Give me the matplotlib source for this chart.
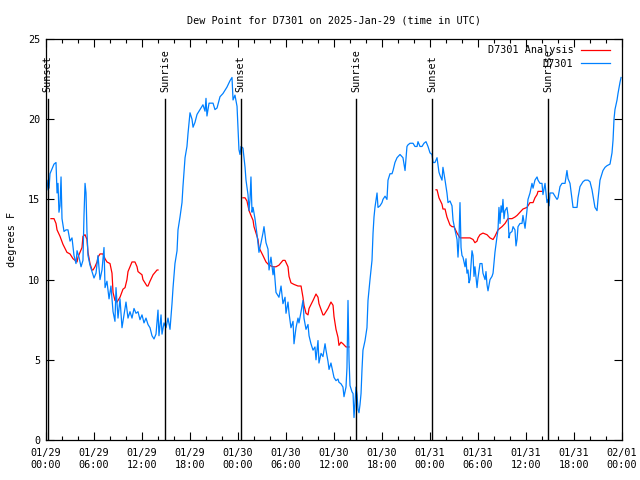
import matplotlib
matplotlib.use("Agg")
import matplotlib.pyplot as plt
import matplotlib.transforms as mtransforms

# hours since 2025-01-29 00:00 UTC
obs_hours = [0.12,0.25,0.38,0.5,0.75,1.0,1.25,1.38,1.5,1.62,1.75,1.88,2.0,2.25,2.5,2.75,3.0,3.25,3.5,3.75,3.88,4.12,4.38,4.62,4.75,4.88,5.0,5.12,5.25,5.5,5.75,6.0,6.25,6.5,6.75,7.0,7.25,7.38,7.62,7.88,8.12,8.38,8.62,8.75,9.0,9.25,9.5,9.75,10.0,10.25,10.5,10.75,11.0,11.25,11.5,11.75,12.0,12.25,12.5,12.75,13.0,13.25,13.5,13.75,14.0,14.12,14.38,14.5,14.75,15.0,15.25,15.5,15.75,15.88,16.12,16.38,16.5,16.75,17.0,17.12,17.38,17.62,17.75,18.0,18.25,18.38,18.62,18.88,19.25,19.62,19.88,20.0,20.12,20.38,20.88,21.12,21.38,21.75,22.12,22.62,23.0,23.25,23.38,23.62,23.88,24.12,24.25,24.38,24.62,24.88,25.0,25.25,25.38,25.5,25.62,25.75,25.88,26.12,26.38,26.62,26.88,27.12,27.25,27.5,27.75,27.88,28.12,28.38,28.5,28.75,29.12,29.38,29.62,29.88,30.0,30.25,30.38,30.62,30.88,31.0,31.25,31.5,31.62,31.88,32.12,32.25,32.5,32.75,32.88,33.12,33.38,33.62,33.75,34.0,34.12,34.38,34.62,34.88,35.0,35.25,35.38,35.62,35.88,36.0,36.25,36.5,36.62,36.88,37.12,37.25,37.5,37.62,37.75,37.88,38.0,38.25,38.38,38.5,38.62,38.75,38.88,39.0,39.12,39.25,39.38,39.5,39.62,39.88,40.12,40.25,40.5,40.75,40.88,41.0,41.12,41.38,41.5,41.75,42.0,42.12,42.38,42.62,42.75,43.0,43.25,43.38,43.62,43.88,44.25,44.62,44.88,45.12,45.25,45.5,45.88,46.12,46.38,46.5,46.75,47.0,47.25,47.5,47.75,48.0,48.25,48.38,48.62,48.88,49.12,49.25,49.5,49.62,49.88,50.12,50.25,50.5,50.75,50.88,51.12,51.38,51.5,51.62,51.75,51.88,52.0,52.12,52.38,52.5,52.62,52.75,52.88,53.0,53.25,53.38,53.5,53.62,53.88,54.0,54.25,54.5,54.62,54.88,55.0,55.12,55.25,55.5,55.75,55.88,56.12,56.38,56.5,56.62,56.75,56.88,57.0,57.12,57.25,57.38,57.62,57.75,57.88,58.0,58.25,58.38,58.62,58.75,58.88,59.0,59.25,59.5,59.62,59.88,60.12,60.25,60.5,60.75,60.88,61.12,61.38,61.5,61.75,62.0,62.12,62.38,62.62,62.75,62.88,63.0,63.38,63.62,63.88,64.0,64.25,64.5,64.88,65.12,65.25,65.5,65.75,65.88,66.38,66.5,66.75,67.0,67.12,67.38,67.75,68.0,68.25,68.38,68.62,68.88,69.0,69.25,69.5,69.62,69.88,70.12,70.5,70.75,70.88,71.0,71.12,71.38,71.5,71.75,71.88]
obs_values = [15.6,16.2,15.7,16.6,16.9,17.2,17.3,15.4,16.0,14.2,14.6,16.4,13.8,13.0,13.1,13.1,12.4,12.6,11.5,11.0,11.8,11.4,10.8,11.2,14.0,16.0,15.4,13.0,11.5,10.9,10.5,10.1,10.4,11.5,10.0,10.6,12.0,9.5,9.9,8.8,9.6,8.0,7.4,9.5,7.6,8.8,7.0,7.8,8.6,7.6,8.0,7.6,8.2,7.9,8.0,7.5,7.8,7.3,7.6,7.2,7.0,6.5,6.3,6.6,8.1,6.5,7.8,6.6,7.3,7.0,7.6,6.9,8.5,9.5,11.0,11.8,13.1,13.9,14.8,15.8,17.6,18.3,19.1,20.4,20.0,19.5,19.8,20.3,20.6,20.9,20.5,21.3,20.2,21.0,21.0,20.6,20.7,21.4,21.6,22.0,22.4,22.6,21.2,21.5,20.8,18.1,17.8,18.3,18.2,17.0,16.2,15.3,14.3,15.0,16.4,14.2,14.5,13.8,12.8,11.7,12.3,12.9,13.3,12.3,11.9,10.6,11.4,10.3,10.8,9.2,8.9,9.6,8.5,8.9,7.9,8.6,7.9,7.0,7.4,6.0,7.0,7.6,7.3,8.0,8.7,7.6,6.9,7.2,6.5,6.0,5.6,5.8,5.0,6.2,4.8,5.4,5.2,6.0,5.6,4.9,4.4,4.8,4.2,3.9,3.7,3.8,3.6,3.5,3.3,2.7,3.3,4.5,8.7,5.0,3.4,3.0,2.9,1.4,2.3,3.3,2.8,1.9,1.7,2.2,2.9,4.4,5.6,6.2,7.0,8.7,10.0,11.2,12.9,13.9,14.5,15.4,14.5,14.6,14.8,15.0,15.2,15.0,16.2,16.6,16.6,16.8,17.3,17.6,17.8,17.6,16.8,18.3,18.4,18.5,18.5,18.3,18.3,18.6,18.3,18.3,18.5,18.6,18.3,17.9,17.8,17.3,17.3,17.6,16.7,16.5,16.2,17.0,16.2,15.4,14.8,14.9,14.6,13.7,13.1,12.5,11.4,12.5,14.8,12.0,11.5,11.4,10.8,11.3,10.4,10.6,9.8,10.0,11.8,11.5,10.2,10.8,9.5,10.1,11.0,11.0,10.4,10.0,10.5,9.7,9.3,10.0,10.2,10.4,11.7,12.7,13.1,14.5,13.5,14.6,14.2,15.0,13.8,14.3,14.5,14.0,12.6,12.9,13.0,13.3,13.1,12.1,12.5,13.3,13.5,13.5,14.0,13.2,14.3,15.0,15.4,16.0,15.7,16.2,16.4,16.2,16.0,16.0,15.3,16.0,14.8,15.0,14.6,15.4,15.4,15.2,15.0,15.1,15.8,16.0,16.0,16.8,16.3,16.0,15.0,14.5,14.5,15.1,15.8,16.0,16.1,16.2,16.2,16.1,15.6,15.2,14.5,14.3,15.0,16.2,16.6,16.8,17.0,17.1,17.2,17.9,18.7,20.0,20.6,21.2,21.6,22.3,22.6]

ana1_hours = [0.62,1.0,1.25,1.38,1.75,2.12,2.62,3.0,3.38,3.88,4.0,4.25,4.5,4.62,4.88,5.12,5.25,5.5,5.75,5.88,6.12,6.38,6.5,6.75,7.12,7.38,7.62,8.0,8.25,8.38,8.62,8.88,9.0,9.25,9.62,9.88,10.12,10.25,10.5,10.75,11.12,11.38,11.5,12.0,12.12,12.62,12.75,13.0,13.38,13.88,14.0]
ana1_values = [13.8,13.8,13.5,13.1,12.7,12.2,11.7,11.6,11.3,11.1,11.4,11.7,12.0,12.7,12.8,12.5,11.7,11.0,10.6,10.6,10.8,11.1,11.4,11.6,11.6,11.3,11.1,11.0,10.4,9.2,8.7,8.6,8.7,8.9,9.4,9.5,10.0,10.5,10.8,11.1,11.1,10.8,10.5,10.3,10.0,9.6,9.6,9.9,10.3,10.6,10.6]
ana2_hours = [24.62,24.88,25.12,25.38,25.62,25.88,26.0,26.25,26.5,26.62,27.12,27.5,27.88,28.38,28.75,29.12,29.62,29.88,30.25,30.38,30.62,31.0,31.5,31.88,32.12,32.25,32.5,32.75,32.88,33.38,33.75,34.0,34.12,34.62,34.75,35.25,35.62,35.88,36.0,36.25,36.5,36.62,36.88,37.12,37.5,37.88]
ana2_values = [15.1,15.1,14.9,14.3,14.0,13.7,13.3,12.9,12.5,12.0,11.5,11.1,10.9,10.8,10.8,10.9,11.2,11.2,10.8,10.2,9.8,9.7,9.6,9.6,8.9,8.4,7.9,7.8,8.2,8.7,9.1,8.9,8.5,7.8,7.8,8.2,8.6,8.4,7.7,6.9,6.4,5.9,6.1,6.0,5.8,5.8]
ana3_hours = [48.75,48.88,49.12,49.5,49.62,49.88,50.12,50.5,50.75,51.0,51.38,51.75,52.12,52.62,53.0,53.38,53.62,53.88,54.0,54.25,54.62,55.12,55.5,55.88,56.12,56.5,57.0,57.38,57.75,58.25,58.62,58.88,59.25,59.62,60.12,60.5,60.88,61.12,61.38,61.5,62.0]
ana3_values = [15.6,15.6,15.1,14.7,14.4,14.4,13.9,13.4,13.3,13.3,12.9,12.6,12.6,12.6,12.6,12.5,12.3,12.4,12.6,12.8,12.9,12.8,12.6,12.5,12.7,13.1,13.3,13.5,13.8,13.8,13.9,14.0,14.2,14.4,14.5,14.8,14.8,15.1,15.3,15.5,15.5]

sun_hours = [0.2, 14.9, 24.33, 38.8, 48.3, 62.8]
sun_labels = ["Sunset", "Sunrise", "Sunset", "Sunrise", "Sunset", "Sunrise"]

xtick_hours = [0, 6, 12, 18, 24, 30, 36, 42, 48, 54, 60, 66, 72]
xtick_labels = ["01/29\n00:00", "01/29\n06:00", "01/29\n12:00", "01/29\n18:00",
                "01/30\n00:00", "01/30\n06:00", "01/30\n12:00", "01/30\n18:00",
                "01/31\n00:00", "01/31\n06:00", "01/31\n12:00", "01/31\n18:00",
                "02/01\n00:00"]
yticks = [0, 5, 10, 15, 20, 25]

FS = 7.3
plt.rcParams['font.family'] = ['DejaVu Sans Mono']

fig = plt.figure(figsize=(6.4, 4.8), dpi=100)
ax = fig.add_axes([46/640, 40/480, 576/640, 401/480])

ana_color = '#ff0000'
obs_color = '#0080ff'
first = True
for hs, vs in [(ana1_hours, ana1_values), (ana2_hours, ana2_values), (ana3_hours, ana3_values)]:
    ax.plot(hs, vs, color=ana_color, lw=0.9, label="D7301 Analysis" if first else None)
    first = False
ax.plot(obs_hours, obs_values, color=obs_color, lw=0.9, label="D7301")

blend = mtransforms.blended_transform_factory(ax.transData, ax.transAxes)
line_top = (440 - 99) / 401
text_bottom = (440 - 92) / 401
for h, lab in zip(sun_hours, sun_labels):
    ax.axvline(h, ymin=0, ymax=line_top, color='black', lw=1.0)
    ax.text(h, text_bottom, lab, rotation=90, ha='center', va='bottom',
            fontsize=FS, transform=blend)

ax.set_xlim(0, 72)
ax.set_ylim(0, 25)

ax.set_xticks(xtick_hours)
ax.set_xticklabels(xtick_labels, fontsize=FS, linespacing=1.25)
ax.set_xticks(list(range(0, 73, 2)), minor=True)
ax.set_yticks(yticks)
ax.set_yticklabels([str(v) for v in yticks], fontsize=FS)
ax.tick_params(axis='both', which='major', direction='in', length=6, width=0.8,
               top=True, right=True, pad=4)
ax.tick_params(axis='both', which='minor', direction='in', length=3, width=0.8,
               top=True, right=True)
ax.tick_params(axis='x', which='major', pad=6)
for s in ax.spines.values():
    s.set_linewidth(0.9)

ax.set_ylabel("degrees F", fontsize=FS, labelpad=8)
ax.set_title("Dew Point for D7301 on 2025-Jan-29 (time in UTC)", fontsize=FS, pad=11)

leg = ax.legend(loc='upper right', bbox_to_anchor=(1.0 - 5/576, 1.0 + 1/401), frameon=False,
                fontsize=FS, markerfirst=False, handlelength=2.9, handletextpad=0.7,
                labelspacing=0.35, borderaxespad=0.3)

fig.savefig("out.png", dpi=100)
